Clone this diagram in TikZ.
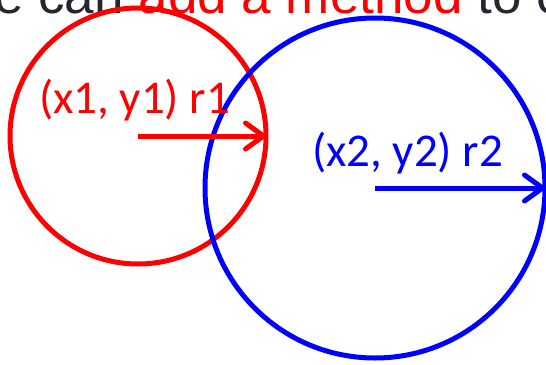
\documentclass[tikz,border=0pt]{standalone}
\usepackage{fontspec}
\setmainfont{Liberation Sans}
\newfontfamily\calfont{Carlito}
\usetikzlibrary{arrows.meta}
\definecolor{slidegray}{RGB}{38,38,46}
\begin{document}
\begin{tikzpicture}[x=1pt,y=-1pt,
    ring/.style={circle,draw,line width=5pt,inner sep=0pt,outer sep=0pt},
    radius arrow/.style={line width=5pt,
      -{Straight Barb[length=18pt,width=26pt,line cap=round,line join=round]}},
    coord label/.style={font=\calfont\fontsize{47}{56}\selectfont,anchor=base,inner sep=0pt}]
  \useasboundingbox (0,0) rectangle (546,364);
  \clip (0,0) rectangle (546,364);
  % slide text behind the circles
  \node[anchor=base west,inner sep=0pt,font=\fontsize{53}{64}\selectfont,text=slidegray]
    (title) at (-6,13.5) {e can \textcolor{red}{add a method} to c};
  % the two circles
  \node[ring,draw=red,minimum size=256pt] (c1) at (138,136) {};
  \node[ring,draw=blue,minimum size=340pt] (c2) at (375,188) {};
  \node[coord label,text=red] (l1) at (134.5,113) {(x1, y1) r1};
  \node[coord label,text=blue] (l2) at (407.5,166) {(x2, y2) r2};
  \draw[radius arrow,red] (c1.center) -- (c1.east);
  \draw[radius arrow,blue] (c2.center) -- (c2.east);
\end{tikzpicture}
\end{document}
